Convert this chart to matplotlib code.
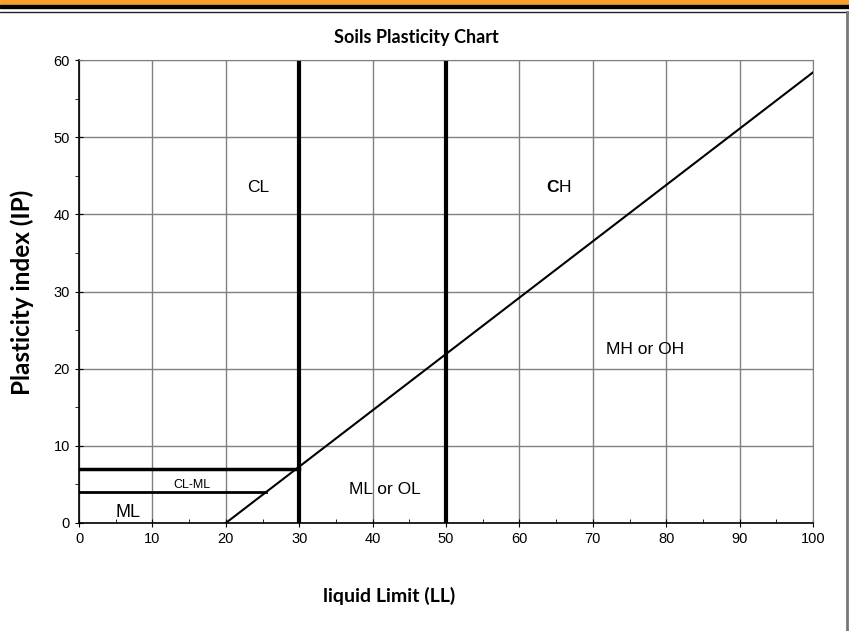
import matplotlib.pyplot as plt
from matplotlib.lines import Line2D
from matplotlib.patches import Rectangle
from matplotlib.ticker import MultipleLocator

# A-line: PI = 0.73 (LL - 20)
a_line_ll = [20, 100]
a_line_pi = [0, 58.4]
# boundary lines
ll_bounds = [30, 50]
pi_bounds = [7, 4]
pi_bound_ends = [30, 25.5]
# zone labels
zone_names = ['CL', 'MH or OH', 'ML or OL', 'CL-ML', 'ML']
zone_ll = [24.4, 77.1, 41.7, 15.4, 6.7]
zone_pi = [43.5, 22.5, 4.3, 4.9, 1.4]
zone_size = [12.5, 12.5, 12.5, 9, 13]

fig = plt.figure(figsize=(8.49, 6.31), dpi=100)
ax = fig.add_axes([79/849, 1-523/631, (813-79)/849, (523-60)/631])

# page decoration
fig.patches.append(Rectangle((0, 1-5/631), 1, 5/631, transform=fig.transFigure,
                             color='#F7A12B', zorder=0))
fig.patches.append(Rectangle((0, 1-7.5/631), 1, 2.5/631, transform=fig.transFigure,
                             color='black', zorder=0))
fig.lines.append(Line2D([0, 848/849], [1-11.5/631]*2, transform=fig.transFigure,
                        color='#222222', lw=1))
fig.lines.append(Line2D([847/849]*2, [0, 1-11.5/631], transform=fig.transFigure,
                        color='#777777', lw=2))

ax.set_xlim(0, 100)
ax.set_ylim(0, 60)
ax.xaxis.set_major_locator(MultipleLocator(10))
ax.xaxis.set_minor_locator(MultipleLocator(5))
ax.yaxis.set_major_locator(MultipleLocator(10))
ax.yaxis.set_minor_locator(MultipleLocator(5))
ax.grid(True, which='major', color='#808080', lw=1)
ax.set_axisbelow(True)
ax.tick_params(which='major', direction='inout', length=6, labelsize=10.5,
               labelfontfamily='Liberation Sans')
ax.tick_params(axis='x', which='minor', direction='in', length=3)
ax.tick_params(axis='y', which='minor', direction='out', length=3)
for side in ['top', 'right']:
    ax.spines[side].set_color('#808080')
for side in ['left', 'bottom']:
    ax.spines[side].set_linewidth(1.2)

ax.plot(a_line_ll, a_line_pi, color='black', lw=1.5)
for ll in ll_bounds:
    ax.plot([ll, ll], [0, 60], color='black', lw=3)
for pi, end in zip(pi_bounds, pi_bound_ends):
    ax.plot([0, end], [pi, pi], color='black', lw=2.5 if pi == 7 else 2)

for name, x, y, s in zip(zone_names, zone_ll, zone_pi, zone_size):
    ax.text(x, y, name, ha='center', va='center', fontsize=s,
            family='Liberation Sans')
ax.text(65.3, 43.5, 'C', ha='right', va='center', fontsize=12.5,
        family='Liberation Sans', fontweight='bold')
ax.text(65.3, 43.5, 'H', ha='left', va='center', fontsize=12.5,
        family='Liberation Sans')

fig.text(416/849, 1-37/631, 'Soils Plasticity Chart', ha='center', va='center',
         fontsize=13, fontweight='bold', family='Lato')
fig.text(389/849, 1-596/631, 'liquid Limit (LL)', ha='center', va='center',
         fontsize=14, fontweight='bold', family='Lato')
fig.text(22/849, 1-292/631, 'Plasticity index (IP)', ha='center', va='center',
         fontsize=17.5, fontweight='bold', rotation=90, family='Lato')

fig.savefig('out.png', dpi=100)
